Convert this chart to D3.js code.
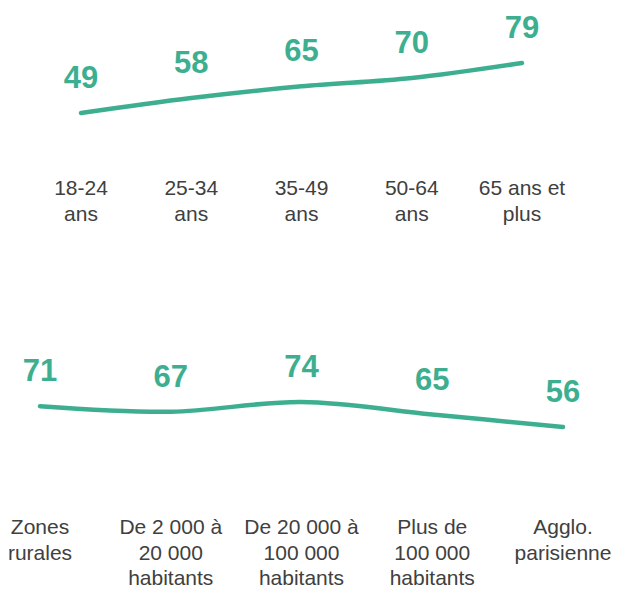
<!DOCTYPE html>
<html>
<head>
<meta charset="utf-8">
<script src="https://cdn.jsdelivr.net/npm/d3@7"></script>
<style>
  body { margin: 0; background: #fff; }
  svg { display: block; }
</style>
</head>
<body>
<svg id="chart" width="628" height="598"></svg>
<script>
// age groups
const ageLabels = [['18-24', 'ans'], ['25-34', 'ans'], ['35-49', 'ans'], ['50-64', 'ans'], ['65 ans et', 'plus']];
const ageValues = [49, 58, 65, 70, 79];

// size of town
const zoneLabels = [
  ['Zones', 'rurales'],
  ['De 2 000 à', '20 000', 'habitants'],
  ['De 20 000 à', '100 000', 'habitants'],
  ['Plus de', '100 000', 'habitants'],
  ['Agglo.', 'parisienne']
];
const zoneValues = [71, 67, 74, 65, 56];

const green = '#3daf90';
const grey = '#404040';
const font = '"Liberation Sans", Arial, sans-serif';

const svg = d3.select('#chart');

const drawPanel = (labels, values, opts) => {
  const g = svg.append('g');
  const keys = labels.map((d, i) => i);

  const x = d3.scalePoint()
    .domain(keys)
    .range(opts.xRange);

  const y = d3.scaleLinear()
    .domain(d3.extent(values))
    .range(opts.yRange);

  const line = d3.line()
    .x((d, i) => x(i))
    .y(d => y(d))
    .curve(d3.curveCatmullRom);

  g.append('path')
    .datum(values)
    .attr('d', line)
    .attr('fill', 'none')
    .attr('stroke', green)
    .attr('stroke-width', 4.5)
    .attr('stroke-linecap', 'round');

  g.selectAll('.value-label')
    .data(values)
    .join('text')
    .attr('class', 'value-label')
    .attr('x', (d, i) => x(i))
    .attr('y', d => y(d) - 25)
    .attr('text-anchor', 'middle')
    .style('font-family', font)
    .style('font-weight', 'bold')
    .style('font-size', '31px')
    .style('fill', green)
    .text(d => d);

  // category labels, one tspan per line
  const cat = g.selectAll('.cat-label')
    .data(labels)
    .join('text')
    .attr('class', 'cat-label')
    .attr('text-anchor', 'middle')
    .attr('y', opts.labelY)
    .style('font-family', font)
    .style('font-size', '21px')
    .style('fill', grey);

  cat.each(function (d, i) {
    d3.select(this).selectAll('tspan')
      .data(d)
      .join('tspan')
      .attr('x', x(i))
      .attr('y', (t, j) => opts.labelY + j * 25.5)
      .text(t => t);
  });
};

drawPanel(ageLabels, ageValues, { xRange: [81, 522], yRange: [113, 63], labelY: 195 });
drawPanel(zoneLabels, zoneValues, { xRange: [40, 563], yRange: [427, 402], labelY: 534 });
</script>
</body>
</html>
